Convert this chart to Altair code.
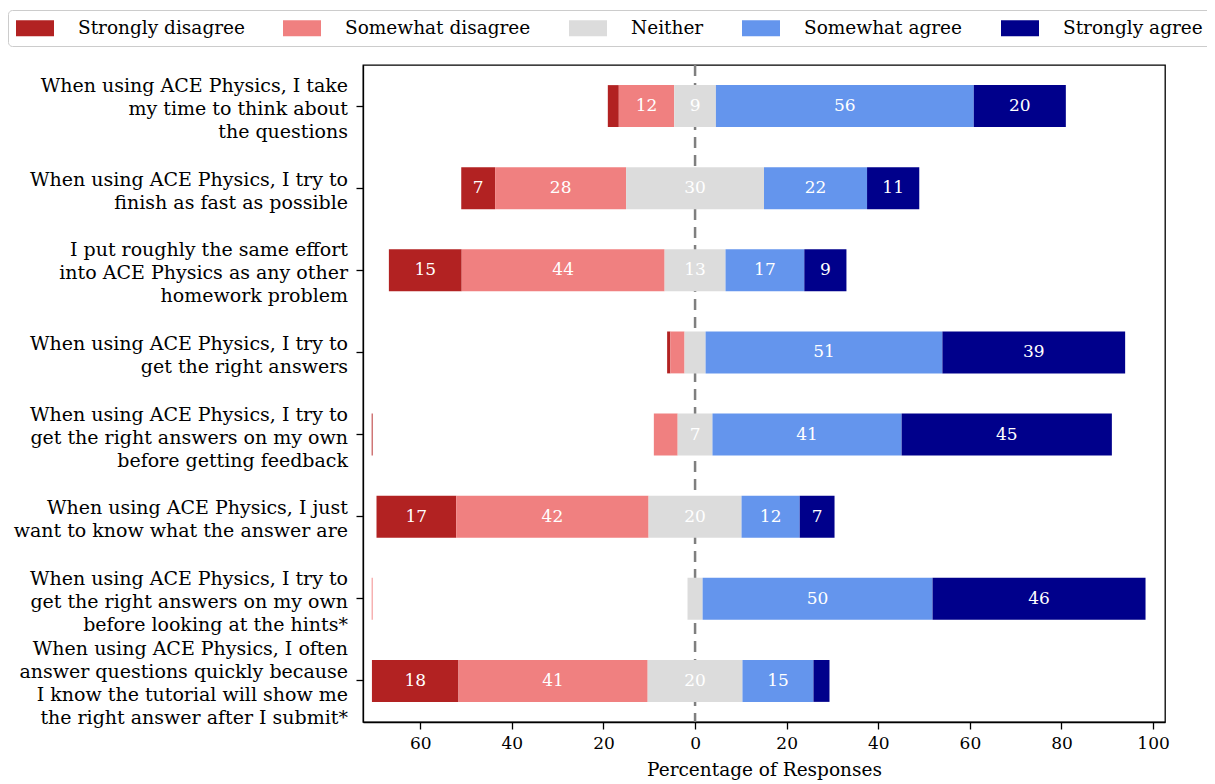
import math
import altair as alt
import pandas as pd

questions = [
    "When using ACE Physics, I take|my time to think about|the questions",
    "When using ACE Physics, I try to|finish as fast as possible",
    "I put roughly the same effort|into ACE Physics as any other|homework problem",
    "When using ACE Physics, I try to|get the right answers",
    "When using ACE Physics, I try to|get the right answers on my own|before getting feedback",
    "When using ACE Physics, I just|want to know what the answer are",
    "When using ACE Physics, I try to|get the right answers on my own|before looking at the hints*",
    "When using ACE Physics, I often|answer questions quickly because|I know the tutorial will show me|the right answer after I submit*",
]
categories = ["Strongly disagree", "Somewhat disagree", "Neither", "Somewhat agree", "Strongly agree"]
colors = ["#b22222", "#f08080", "#dcdcdc", "#6495ed", "#00008b"]

strongly_disagree = [2.4, 7.4, 15.9, 0.7, 0.0, 17.4, 0.0, 18.9]
somewhat_disagree = [12.1, 28.6, 44.3, 3.1, 5.2, 42.0, 0.0, 41.3]
neither = [9.1, 30.1, 13.3, 4.6, 7.6, 20.3, 3.3, 20.7]
somewhat_agree = [56.3, 22.5, 17.2, 51.7, 41.3, 12.7, 50.2, 15.5]
strongly_agree = [20.1, 11.4, 9.2, 39.9, 45.9, 7.6, 46.5, 3.5]

# thin stray slivers visible at the left of two rows
stray_rows = [4, 6]
stray_cats = ["Strongly disagree", "Somewhat disagree"]
stray_pos = [-70.5, -70.5]

FONT = "DejaVu Serif"
LINE_H = 23
W, H = 802, 657
PAD_IN, PAD_OUT = 0.49, 0.245

series = [strongly_disagree, somewhat_disagree, neither, somewhat_agree, strongly_agree]
rows = []
for i, q in enumerate(questions):
    start = -(strongly_disagree[i] + somewhat_disagree[i] + neither[i] / 2)
    for c, vals in zip(categories, series):
        v = vals[i]
        if v > 0:
            rows.append({
                "question": q, "category": c, "start": start, "end": start + v,
                "mid": start + v / 2,
                "label": str(int(math.floor(v))) if v >= 6 else "",
            })
        start += v
df = pd.DataFrame(rows)

# multi-line labels are anchored at their first line at the band start when an
# offset channel is present: shift so that the block is centred on the band
step = H / (len(questions) - PAD_IN + 2 * PAD_OUT)
bandwidth = step * (1 - PAD_IN)
qdf = pd.DataFrame({
    "question": questions,
    "off": [bandwidth / 2 + 3 - (len(q.split("|")) - 1) * LINE_H / 2 for q in questions],
})

stray_df = pd.DataFrame({
    "question": [questions[r] for r in stray_rows],
    "category": stray_cats,
    "start": [p - 0.1 for p in stray_pos],
    "end": [p + 0.1 for p in stray_pos],
})

xscale = alt.Scale(domain=[-72.5, 102.6], nice=False, zero=False)
yscale = alt.Scale(domain=questions, paddingInner=PAD_IN, paddingOuter=PAD_OUT)

color = alt.Color(
    "category:N",
    scale=alt.Scale(domain=categories, range=colors),
    legend=alt.Legend(
        title=None, orient="none", direction="horizontal", columns=5,
        legendX=-355, legendY=-55,
        symbolType="M-1,-0.8L2.8,-0.8L2.8,0.8L-1,0.8Z", symbolSize=400,
        symbolStrokeWidth=0, symbolOpacity=1,
        labelFont=FONT, labelFontSize=18.5, labelColor="black", labelOffset=42,
        labelLimit=400,
        columnPadding=38, padding=8, strokeColor="#cccccc", cornerRadius=4,
        fillColor="white",
    ),
)

bars = alt.Chart(df).mark_bar().encode(
    x=alt.X("start:Q", scale=xscale,
            axis=alt.Axis(values=list(range(-60, 101, 20)),
                          labelExpr="format(abs(datum.value), 'd')",
                          title="Percentage of Responses", grid=False)),
    x2="end:Q",
    y=alt.Y("question:N", sort=questions, scale=yscale,
            axis=alt.Axis(labels=False, title=None)),
    color=color,
)

stray = alt.Chart(stray_df).mark_bar().encode(
    x=alt.X("start:Q", scale=xscale),
    x2="end:Q",
    y=alt.Y("question:N", sort=questions, scale=yscale),
    color=alt.Color("category:N", scale=alt.Scale(domain=categories, range=colors)),
)

texts = alt.Chart(df).mark_text(color="white", font=FONT, fontSize=17).encode(
    x=alt.X("mid:Q", scale=xscale),
    y=alt.Y("question:N", sort=questions, scale=yscale),
    text="label:N",
)

ylabels = alt.Chart(qdf).mark_text(
    align="right", baseline="middle", lineBreak="|", lineHeight=LINE_H,
    font=FONT, fontSize=19, color="black",
).encode(
    x=alt.value(-15),
    y=alt.Y("question:N", sort=questions, scale=yscale),
    yOffset=alt.YOffset("off:Q", scale=None),
    text="question:N",
)

zero = alt.Chart(pd.DataFrame({"x": [0]})).mark_rule(
    strokeDash=[11, 7], color="#7f7f7f", strokeWidth=2.5
).encode(x=alt.X("x:Q", scale=xscale))

chart = alt.layer(zero, bars, stray, texts, ylabels).properties(
    width=W, height=H, autosize="none",
    padding={"left": 355, "top": 57, "right": 42, "bottom": 60},
).configure_view(
    stroke="black", strokeWidth=1.3
).configure_axis(
    labelFont=FONT, titleFont=FONT, labelFontSize=17, titleFontSize=18.5,
    titleFontWeight="normal", labelColor="black", titleColor="black",
    domainColor="black", tickColor="black", domainWidth=1.3, tickWidth=1.3,
    tickSize=7,
).configure_axisX(
    labelPadding=6, titlePadding=9,
)

chart.save("out.html", embed_options={"renderer": "svg", "actions": False})
